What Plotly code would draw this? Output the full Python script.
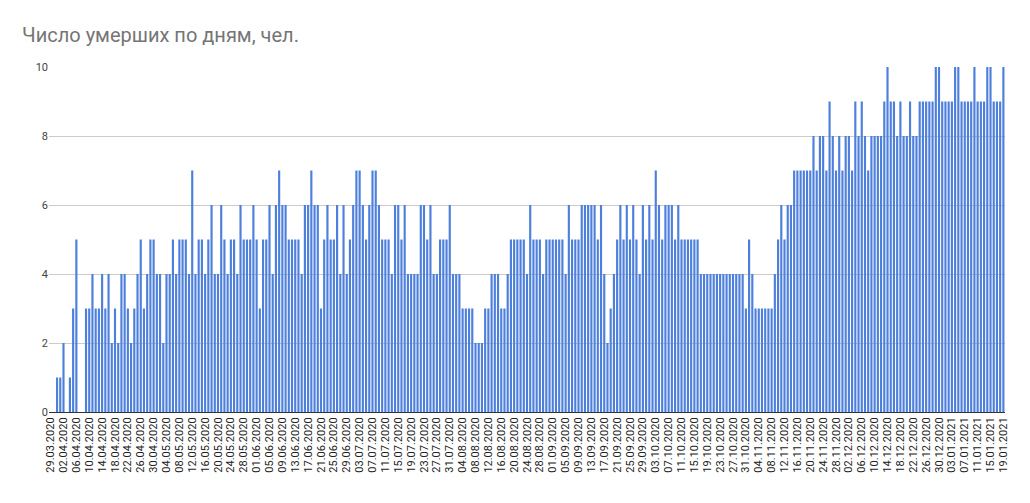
import pandas as pd
import plotly.graph_objects as go

start_date = "2020-03-29"
end_date = "2021-01-19"
dates = pd.date_range(start_date, end_date, freq="D")
date_labels = [d.strftime("%d.%m.%Y") for d in dates]

deaths = (
    [0, 0, 1, 1, 2, 0, 1, 3, 5, 0, 0]
    + [3, 3, 4, 3, 3, 4, 3, 4, 2, 3, 2, 4, 4, 3]
    + [2, 3, 4, 5, 3, 4, 5, 5, 4, 4, 2, 4, 4, 5, 4, 5, 5, 5, 4, 7, 4, 5, 5, 4, 5]
    + [6, 4, 4, 6, 5, 4, 5, 5, 4, 6, 5, 5, 5, 6, 5, 3, 5, 5, 6, 4, 6, 7, 6, 6, 5]
    + [5, 5, 5, 4, 6, 6, 7, 6, 6, 3, 5, 6, 5, 5, 6, 4, 6, 4, 5, 6, 7, 7, 6, 5, 6]
    + [7, 7, 6, 5, 5, 5, 4, 6, 6, 5, 6, 4, 4, 4, 4, 6, 6, 5, 6, 4, 4, 5, 5, 5, 6]
    + [4, 4, 4, 3, 3, 3, 3, 2, 2, 2, 3, 3, 4, 4, 4, 3, 3, 4, 5, 5, 5, 5, 5, 4]
    + [6, 5, 5, 5, 4, 5, 5, 5, 5, 5, 5, 4, 6, 5, 5, 5, 6, 6, 6, 6, 6, 5, 6, 4, 2, 3]
    + [4, 5, 6, 5, 6, 5, 6, 5, 4, 6, 5, 6, 5, 7, 6, 5, 6, 6, 6, 5, 6, 5, 5, 5]
    + [5, 5, 5, 4, 4, 4, 4, 4, 4, 4, 4, 4, 4, 4, 4, 4, 4, 3, 5, 4, 3, 3, 3, 3, 3]
    + [3, 4, 5, 6, 5, 6, 6, 7, 7, 7, 7, 7, 7, 8, 7, 8, 8, 7, 9, 8, 7, 8, 7, 8, 8]
    + [7, 9, 8, 9, 8, 7, 8, 8, 8, 8, 9, 10, 9, 9, 8, 9, 8, 8, 9, 8, 8, 9, 9, 9]
    + [9, 9, 10, 10, 9, 9, 9, 9, 10, 10, 9, 9, 9, 9, 10, 9, 9, 9, 10, 10, 9, 9, 9, 10]
)

tick_labels = date_labels[::4]
y_ticks = [0, 2, 4, 6, 8, 10]
title_text = "Число умерших по дням, чел."

fig = go.Figure(
    go.Bar(
        x=date_labels,
        y=deaths,
        marker=dict(color="#4d7fdc", line=dict(width=0)),
        hoverinfo="x+y",
    )
)

fig.update_layout(
    width=1030,
    height=503,
    margin=dict(l=41, r=33, t=59, b=99),
    paper_bgcolor="white",
    plot_bgcolor="white",
    bargap=0.33,
    showlegend=False,
    font=dict(family="Roboto, Arial, sans-serif", color="#222222"),
    title=dict(
        text=title_text,
        x=14 / 1030,
        xref="container",
        xanchor="left",
        y=1 - 27 / 503,
        yref="container",
        yanchor="middle",
        font=dict(size=20, color="#757575", family="Roboto, Arial, sans-serif"),
    ),
    xaxis=dict(
        type="category",
        tickmode="array",
        tickvals=tick_labels,
        ticktext=tick_labels,
        tickangle=-90,
        tickfont=dict(size=11, color="#222222"),
        showgrid=False,
        showline=True,
        linecolor="#333333",
        linewidth=1,
        ticks="",
        range=[-0.5, len(date_labels) - 0.5],
    ),
    yaxis=dict(
        range=[0, 10],
        tickvals=y_ticks,
        tickfont=dict(size=11, color="#444444"),
        showgrid=True,
        gridcolor="#cccccc",
        gridwidth=1,
        zeroline=False,
        showline=False,
        ticks="",
    ),
)

fig.write_html("out.html")
